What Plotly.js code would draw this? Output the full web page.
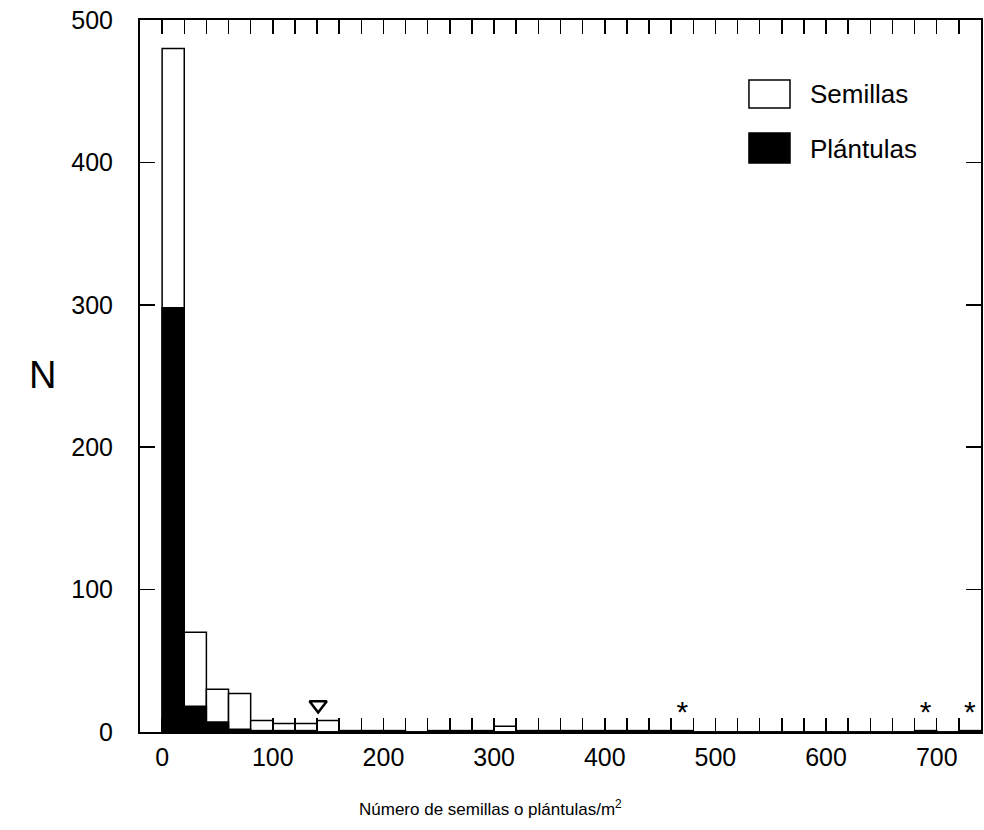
<!DOCTYPE html>
<html>
<head>
<meta charset="utf-8">
<script src="https://cdn.plot.ly/plotly-3.0.1.min.js"></script>
<style>html,body{margin:0;padding:0;background:#fff;}#chart{width:984px;height:830px;}</style>
</head>
<body>
<div id="chart"></div>
<script>
// Bin centres (bins are 20 units wide, 0-740)
const binCenters = [10,30,50,70,90,110,130,150,170,190,210,230,250,270,290,310,330,350,370,390,410,430,450,470,490,510,530,550,570,590,610,630,650,670,690,710,730];
const semillas   = [480,70,30,27,8,6,6,8,1,1,1,0,1,1,1,4,1,1,1,1,1,1,1,1,0,0,0,0,0,0,0,0,0,0,1,0,1];
const plantulas  = [298,18,7,2,1,1,1,0,0,0,0,0,0,0,0,0,0,0,0,0,0,0,0,0,0,0,0,0,0,0,0,0,0,0,0,0,0];
const triangleX  = [141];
const triangleY  = [19];
const asteriskX  = [470, 690, 730];
const asteriskY  = [12, 12, 12];
const xTickVals  = [];
for (let v = 0; v <= 720; v += 20) xTickVals.push(v);
const xTickText  = xTickVals.map(v => (v % 100 === 0 ? String(v) : ''));
const yTickVals  = [0,100,200,300,400,500];
const seriesNames = ['Semillas', 'Plántulas'];

const FONT = 'Liberation Sans, Arial, Helvetica, sans-serif';
const binWidth = binCenters.map(() => 20);

const traces = [
  {type:'bar', x: binCenters, y: semillas, width: binWidth, name: seriesNames[0],
   marker:{color:'#ffffff', line:{color:'#000', width:1.5}}, showlegend:false, hoverinfo:'x+y'},
  {type:'bar', x: binCenters, y: plantulas, width: binWidth, name: seriesNames[1],
   marker:{color:'#000000', line:{color:'#000', width:1.5}}, showlegend:false, hoverinfo:'x+y'},
  {type:'scatter', mode:'markers', x: triangleX, y: triangleY, showlegend:false,
   marker:{symbol:'triangle-down-open', size:15, color:'#000', line:{color:'#000', width:2.5}}, hoverinfo:'skip', cliponaxis:false},
  {type:'scatter', mode:'text', x: asteriskX, y: asteriskY, text: asteriskX.map(() => '*'), showlegend:false,
   textposition:'middle center', textfont:{family:FONT, size:30, color:'#000'}, hoverinfo:'skip', cliponaxis:false}
];

// legend drawn as boxes + labels in paper coordinates
const legBoxX0 = 0.7241, legBoxX1 = 0.7729;
const layout = {
  width: 984, height: 830,
  margin: {l:140, r:3, t:20, b:98, pad:0},
  paper_bgcolor:'#fff', plot_bgcolor:'#fff',
  barmode:'overlay', bargap:0,
  font:{family:FONT, color:'#000'},
  xaxis:{range:[-20,740], tickmode:'array', tickvals:xTickVals, ticktext:xTickText,
         ticks:'inside', ticklen:14, tickwidth:1.5, tickcolor:'#000',
         showline:true, linewidth:2, linecolor:'#000', mirror:'ticks',
         showgrid:false, zeroline:false, tickfont:{family:FONT, size:25, color:'#000'},
         ticklabelstandoff:2, fixedrange:true},
  yaxis:{range:[0,500], tickmode:'array', tickvals:yTickVals,
         ticks:'inside', ticklen:15, tickwidth:1.5, tickcolor:'#000',
         showline:true, linewidth:2, linecolor:'#000', mirror:'ticks',
         showgrid:false, zeroline:false, tickfont:{family:FONT, size:25, color:'#000'},
         ticklabelstandoff:20, fixedrange:true},
  shapes:[
    {type:'rect', xref:'paper', yref:'paper', x0:legBoxX0, x1:legBoxX1, y0:0.8764, y1:0.9157,
     fillcolor:'#fff', line:{color:'#000', width:1.5}},
    {type:'rect', xref:'paper', yref:'paper', x0:legBoxX0, x1:legBoxX1, y0:0.7992, y1:0.8413,
     fillcolor:'#000', line:{color:'#000', width:1.5}}
  ],
  annotations:[
    {xref:'paper', yref:'paper', x:0.7937, y:0.896, xanchor:'left', yanchor:'middle', showarrow:false,
     text:seriesNames[0], font:{family:FONT, size:26, color:'#000'}},
    {xref:'paper', yref:'paper', x:0.7937, y:0.8185, xanchor:'left', yanchor:'middle', showarrow:false,
     text:seriesNames[1], font:{family:FONT, size:26, color:'#000'}},
    {xref:'paper', yref:'paper', x:-0.1165, y:0.5014, xanchor:'center', yanchor:'middle', showarrow:false,
     text:'N', font:{family:FONT, size:38, color:'#000'}},
    {xref:'paper', yref:'paper', x:0.417, y:-0.1067, xanchor:'center', yanchor:'middle', showarrow:false,
     text:'Número de semillas o plántulas/m<sup>2</sup>', font:{family:FONT, size:17, color:'#000'}}
  ]
};

Plotly.newPlot('chart', traces, layout, {displayModeBar:false, staticPlot:true});
</script>
</body>
</html>
